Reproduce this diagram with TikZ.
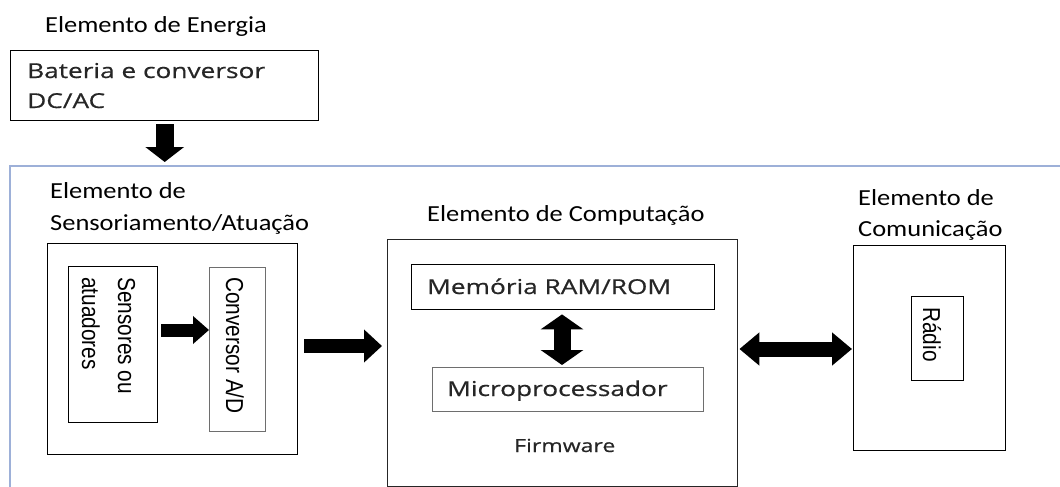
\documentclass[tikz,border=0pt]{standalone}
\usepackage{fontspec}
\usetikzlibrary{arrows.meta}
\newfontfamily\titlefont[FakeStretch=1.15]{Carlito}
\newfontfamily\boxfont[FakeStretch=1.28,FakeBold=0.6]{Open Sans}
\newfontfamily\rotfont[FakeStretch=0.85]{Liberation Sans}
\definecolor{framecol}{HTML}{9DB0D8}
\definecolor{txtcol}{HTML}{262626}
\definecolor{gbord}{HTML}{6E6E6E}
\tikzset{
  box/.style={draw=black, line width=1.4pt, inner sep=0pt, anchor=north west},
  gbox/.style={box, draw=gbord},
  title/.style={font=\titlefont\fontsize{23}{28}\selectfont, text=black, inner sep=0pt, anchor=base west},
  boxtxt/.style={font=\boxfont\fontsize{20.5}{30}\selectfont, text=txtcol, inner sep=0pt, anchor=base west},
  smalltxt/.style={font=\boxfont\fontsize{18}{24}\selectfont, text=txtcol, inner sep=0pt, anchor=base west},
  rottxt/.style={font=\rotfont\fontsize{24.5}{30}\selectfont, text=black, rotate=-90, inner sep=0pt, anchor=base west},
  framestyle/.style={draw=framecol, line width=2pt},
  onearrow/.style={draw=black, line width=#1, -{Triangle[width=32pt,length=18pt]}},
  twoarrow/.style={draw=black, line width=#1, {Triangle[width=32pt,length=20pt]}-{Triangle[width=32pt,length=20pt]}}
}
\begin{document}
\begin{tikzpicture}[x=1pt,y=-1pt]
\useasboundingbox (0,0) rectangle (1060,487);
% frame
\coordinate (fbl) at (10,487);
\coordinate (ftl) at (10,166);
\coordinate (ftr) at (1060,166);
\draw[framestyle] (fbl) -- (ftl) -- (ftr);

% energy element
\node[title] (tEnergia) at (45,33) {Elemento de Energia};
\node[box, minimum width=308pt, minimum height=70pt] (bat) at (10,50) {};
\node[boxtxt] (tBat1) at (27,78) {Bateria e conversor};
\node[boxtxt] (tBat2) at (27,108) {DC/AC};

% sensing element
\node[title] (tSens1) at (50,198) {Elemento de};
\node[title] (tSens2) at (50,230) {Sensoriamento/Atuação};
\node[box, minimum width=250pt, minimum height=211pt] (sensbox) at (47,243) {};
\node[box, minimum width=89pt, minimum height=156pt] (sens) at (68,266) {};
\node[gbox, minimum width=56pt, minimum height=164pt] (conv) at (209,267) {};
\node[rottxt] (tSensA) at (118,277) {Sensores ou};
\node[rottxt] (tSensB) at (82,277) {atuadores};
\node[rottxt] (tConv) at (226,277) {Conversor A/D};

% computation element
\node[title] (tComp) at (427,221) {Elemento de Computação};
\node[box, draw=black!85, minimum width=350pt, minimum height=247pt] (comp) at (387,239) {};
\node[box, minimum width=303pt, minimum height=45pt] (mem) at (411,264) {};
\node[boxtxt] (tMem) at (427,294) {Memória RAM/ROM};
\node[gbox, minimum width=271pt, minimum height=44pt] (micro) at (432,367) {};
\node[boxtxt] (tMicro) at (447,396) {Microprocessador};
\node[smalltxt] (tFirm) at (514,452) {Firmware};

% communication element
\node[title] (tCom1) at (858,205) {Elemento de};
\node[title] (tCom2) at (858,236) {Comunicação};
\node[box, minimum width=152pt, minimum height=205pt] (comm) at (853,245) {};
\node[box, minimum width=52pt, minimum height=84pt] (radio) at (911,296) {};
\node[rottxt] (tRadio) at (923,307) {Rádio};

% arrows
\draw[draw=black, line width=18pt, -{Triangle[width=38pt,length=15pt]}, shorten <=3pt]
  (bat.south) -- (bat.south |- 0,162);
\draw[draw=black, line width=13pt, -{Triangle[width=27pt,length=16pt]}, shorten <=3pt]
  (sens.east |- 0,330) -- (conv.west |- 0,330);
\draw[onearrow=14pt, shorten <=6pt, shorten >=5pt]
  (sensbox.east |- 0,346) -- (comp.west |- 0,346);
\draw[draw=black, line width=17pt, {Triangle[width=42pt,length=15pt]}-{Triangle[width=42pt,length=15pt]}, shorten <=4pt, shorten >=2pt]
  (mem.south -| 562,0) -- (micro.north -| 562,0);
\draw[twoarrow=15pt, shorten <=1pt, shorten >=1pt]
  (comp.east |- 0,349) -- (comm.west |- 0,349);
\end{tikzpicture}
\end{document}
